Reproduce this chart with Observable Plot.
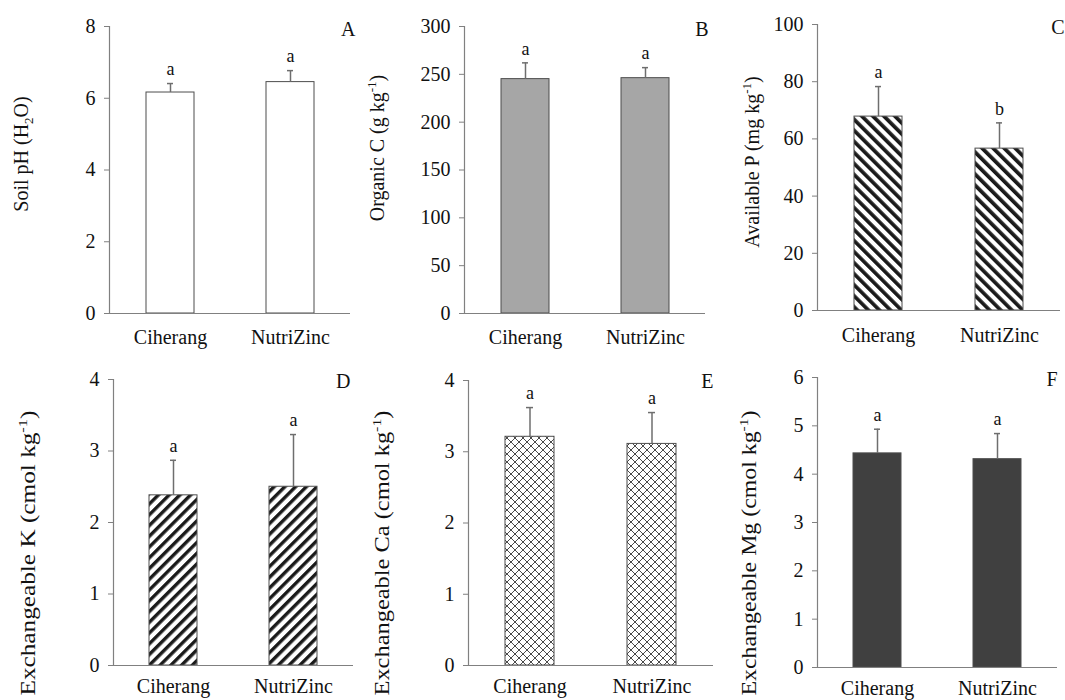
<!DOCTYPE html>
<html><head><meta charset="utf-8">
<script src="https://cdn.jsdelivr.net/npm/d3@7"></script>
<script src="https://cdn.jsdelivr.net/npm/@observablehq/plot@0.6"></script>
<style>
body{margin:0;background:#fff;}
#fig{position:relative;width:1065px;height:700px;overflow:hidden;background:#fff;}
#fig svg{position:absolute;overflow:visible;}
</style></head><body><div id="fig"></div>
<script>
// ---- data ----
const categories = ["Ciherang", "NutriZinc"];

const soilPH = [6.16, 6.45];
const soilPHErr = [0.25, 0.32];
const soilPHLetters = ["a", "a"];
const soilPHTicks = [0, 2, 4, 6, 8];

const organicC = [245, 246];
const organicCErr = [17, 11];
const organicCLetters = ["a", "a"];
const organicCTicks = [0, 50, 100, 150, 200, 250, 300];

const availP = [67.8, 56.6];
const availPErr = [10.5, 9.0];
const availPLetters = ["a", "b"];
const availPTicks = [0, 20, 40, 60, 80, 100];

const exchK = [2.38, 2.50];
const exchKErr = [0.49, 0.73];
const exchKLetters = ["a", "a"];
const exchKTicks = [0, 1, 2, 3, 4];

const exchCa = [3.21, 3.11];
const exchCaErr = [0.41, 0.44];
const exchCaLetters = ["a", "a"];
const exchCaTicks = [0, 1, 2, 3, 4];

const exchMg = [4.43, 4.31];
const exchMgErr = [0.50, 0.53];
const exchMgLetters = ["a", "a"];
const exchMgTicks = [0, 1, 2, 3, 4, 5, 6];

const panelLetters = ["A", "B", "C", "D", "E", "F"];

function table(values, errs, letters) {
  return categories.map((c, i) => ({cat: c, v: values[i], e: errs[i], top: values[i] + errs[i], letter: letters[i]}));
}

// ---- layout / style ----
const FONT = "'Liberation Serif', 'Times New Roman', serif";
const panels = [
  {data: table(soilPH, soilPHErr, soilPHLetters), ticks: soilPHTicks, fill: "white",
   title: [["Soil pH (H"], ["2", "sub"], ["O)"]],
   left: 0, top: 0, width: 355, ml: 109, mr: 5, mt: 26, mb: 37, xPad: 16,
   tx: 28, ty: 154, tlen: null, ldx: 5, ldy: -5},
  {data: table(organicC, organicCErr, organicCLetters), ticks: organicCTicks, fill: "#a6a6a6",
   title: [["Organic C (g kg"], ["-1", "sup"], [")"]],
   left: 355, top: 0, width: 355, ml: 109, mr: 5, mt: 26, mb: 37, xPad: 16,
   tx: 29, ty: 148, tlen: null, ldx: 3, ldy: -5},
  {data: table(availP, availPErr, availPLetters), ticks: availPTicks, fill: "url(#patC)",
   title: [["Available P (mg kg"], ["-1", "sup"], [")"]],
   left: 710, top: 0, width: 355, ml: 107, mr: 5, mt: 24, mb: 40, xPad: 17,
   tx: 49, ty: 162, tlen: null, ldx: 4, ldy: -5},
  {data: table(exchK, exchKErr, exchKLetters), ticks: exchKTicks, fill: "url(#patD)",
   title: [["Exchangeable K (cmol kg"], ["-1", "sup"], [")"]],
   left: 0, top: 350, width: 355, ml: 113, mr: 2, mt: 29, mb: 35, xPad: 13,
   tx: 35, ty: 203, tlen: 285, ldx: -3, ldy: -6},
  {data: table(exchCa, exchCaErr, exchCaLetters), ticks: exchCaTicks, fill: "url(#patE)",
   title: [["Exchangeable Ca (cmol kg"], ["-1", "sup"], [")"]],
   left: 355, top: 350, width: 360, ml: 113, mr: 2, mt: 30, mb: 35, xPad: 13,
   tx: 34, ty: 203, tlen: 285, ldx: 0, ldy: -7},
  {data: table(exchMg, exchMgErr, exchMgLetters), ticks: exchMgTicks, fill: "#404040",
   title: [["Exchangeable Mg (cmol kg"], ["-1", "sup"], [")"]],
   left: 710, top: 350, width: 355, ml: 107, mr: 8, mt: 27, mb: 33, xPad: 13,
   tx: 46, ty: 203, tlen: 285, ldx: 0, ldy: -6}
];

const defsHTML = `
<pattern id="patC" width="7.8" height="7.8" patternUnits="userSpaceOnUse" patternTransform="rotate(-45)">
  <rect width="7.8" height="7.8" fill="white"/><rect width="3.7" height="7.8" fill="#1a1a1a"/></pattern>
<pattern id="patD" width="7.6" height="7.6" patternUnits="userSpaceOnUse" patternTransform="rotate(45)">
  <rect width="7.6" height="7.6" fill="white"/><rect width="3.4" height="7.6" fill="#1a1a1a"/></pattern>
<pattern id="patE" width="8" height="8" patternUnits="userSpaceOnUse">
  <rect width="8" height="8" fill="white"/><path d="M0,0L8,8M8,0L0,8" stroke="#4a4a4a" stroke-width="1"/></pattern>`;

const fig = document.getElementById("fig");
const AXIS = "#808080", ERR = "#6e6e6e", INK = "#111";

panels.forEach((p, i) => {
  const height = 350;
  const chart = Plot.plot({
    width: p.width, height,
    marginLeft: p.ml, marginRight: p.mr, marginTop: p.mt, marginBottom: p.mb,
    style: {fontFamily: FONT, fontSize: "20px", color: INK, background: "transparent", overflow: "visible"},
    x: {domain: categories, paddingInner: 0.6, paddingOuter: 0.3, label: null},
    y: {domain: [0, d3.max(p.ticks)], label: null},
    marks: [
      Plot.barY(p.data, {x: "cat", y: "v", fill: p.fill, stroke: "#4d4d4d", strokeWidth: 1}),
      Plot.ruleX(p.data, {x: "cat", y1: "v", y2: "top", stroke: ERR, strokeWidth: 1.5}),
      Plot.tickY(p.data, {x: "cat", y: "top", stroke: ERR, strokeWidth: 1.5, insetLeft: 21, insetRight: 21}),
      Plot.text(p.data, {x: "cat", y: "top", text: "letter", dy: -14, fontSize: 18, fill: INK}),
      Plot.ruleY([0], {stroke: AXIS, strokeWidth: 1.2}),
      Plot.frame({anchor: "left", stroke: AXIS, strokeWidth: 1.2}),
      Plot.axisY({ticks: p.ticks, tickFormat: d3.format("d"), tickSize: 5, tickPadding: 9, stroke: AXIS, fill: INK, label: null, fontSize: 20}),
      Plot.axisX({tickSize: 0, tickPadding: p.xPad, label: null, fill: INK, fontSize: 20}),
      Plot.text([panelLetters[i]], {frameAnchor: "top-right", dx: p.ldx, dy: p.ldy, fontSize: 20, fill: INK})
    ]
  });
  chart.style.left = p.left + "px";
  chart.style.top = p.top + "px";
  const svg = d3.select(chart);
  svg.insert("defs", ":first-child").html(defsHTML);
  const t = svg.append("text")
    .attr("transform", `translate(${p.tx},${p.ty}) rotate(-90)`)
    .attr("text-anchor", "middle")
    .attr("font-family", FONT)
    .attr("font-size", 20)
    .attr("fill", INK);
  let shift = 0;
  p.title.forEach(([s, kind]) => {
    const ts = t.append("tspan").text(s);
    const target = kind === "sub" ? 5 : kind === "sup" ? -8 : 0;
    ts.attr("dy", target - shift);
    if (kind) ts.attr("font-size", 13);
    shift = target;
  });
  if (p.tlen) t.attr("textLength", p.tlen).attr("lengthAdjust", "spacingAndGlyphs");
  fig.appendChild(chart);
});
</script></body></html>
